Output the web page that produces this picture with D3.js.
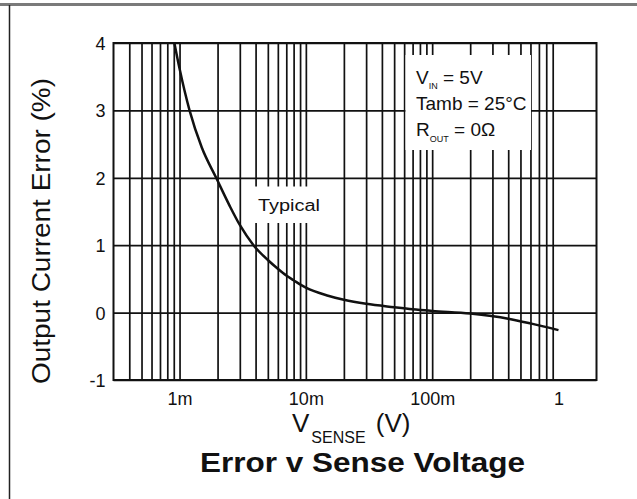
<!DOCTYPE html>
<html>
<head>
<meta charset="utf-8">
<script src="https://cdn.jsdelivr.net/npm/d3@7/dist/d3.min.js"></script>
<style>
html,body{margin:0;padding:0;background:#fff;}
svg{display:block;}
text{font-family:"Liberation Sans",Arial,Helvetica,sans-serif;fill:#111;}
</style>
</head>
<body>
<svg id="chart" width="637" height="499"></svg>
<script>
// ---- data ----
const vSense = [0.00091, 0.001, 0.0012, 0.0015, 0.00195, 0.0025, 0.003, 0.00385, 0.005, 0.006, 0.007, 0.008, 0.01, 0.015, 0.02, 0.03, 0.05, 0.07, 0.1, 0.2, 0.4, 0.6, 1.0];
const errorPct = [4.0, 3.62, 3.0, 2.45, 2.0, 1.58, 1.3, 1.0, 0.78, 0.65, 0.55, 0.48, 0.37, 0.25, 0.19, 0.13, 0.08, 0.05, 0.025, -0.015, -0.09, -0.16, -0.26];
const xTickValues = [0.001, 0.01, 0.1, 1];
const xTickLabels = ["1m", "10m", "100m", "1"];
const yTickValues = [-1, 0, 1, 2, 3, 4];
const yTickLabels = ["-1", "0", "1", "2", "3", "4"];
const xDomain = [0.0003, 2];
const yDomain = [-1, 4];

// ---- layout ----
const svg = d3.select("#chart");
const L = 113.5, R = 596.5, T = 43, B = 380;
const x = d3.scaleLog().domain(xDomain).range([L, R]);
const y = d3.scaleLinear().domain(yDomain).range([B, T]);

// outer frame fragments
svg.append("rect").attr("x", 0).attr("y", 3).attr("width", 637).attr("height", 3).attr("fill", "#7a7a7a");
svg.append("line").attr("x1", 9.5).attr("x2", 9.5).attr("y1", 5).attr("y2", 499).attr("stroke", "#222").attr("stroke-width", 1.5);

// vertical grid values (1..9 per decade inside the domain)
const gridX = [];
[1e-4, 1e-3, 1e-2, 1e-1].forEach(d => {
  for (let m = 1; m <= 9; m++) {
    const v = +(m * d).toPrecision(3);
    if (v > xDomain[0] * 1.0001 && v <= 1.0001) gridX.push(v);
  }
});

const g = svg.append("g");
g.append("g").attr("transform", `translate(0,${B})`)
  .call(d3.axisBottom(x).tickValues(gridX).tickSize(-(B - T)).tickFormat(""))
  .call(a => a.select(".domain").remove())
  .call(a => a.selectAll("line").attr("stroke", "#111").attr("stroke-width", 1.7));
g.append("g").attr("transform", `translate(${L},0)`)
  .call(d3.axisLeft(y).tickValues(yTickValues).tickSize(-(R - L)).tickFormat(""))
  .call(a => a.select(".domain").remove())
  .call(a => a.selectAll("line").attr("stroke", "#111").attr("stroke-width", 1.7));

// white boxes behind annotations
svg.append("rect").attr("x", 248).attr("y", 186.5).attr("width", 76).attr("height", 36.5).attr("fill", "#fff");
svg.append("rect").attr("x", 405.5).attr("y", 55).attr("width", 125.5).attr("height", 95).attr("fill", "#fff");

// frame
svg.append("rect").attr("x", L).attr("y", T).attr("width", R - L).attr("height", B - T)
  .attr("fill", "none").attr("stroke", "#111").attr("stroke-width", 2);

// curve
svg.append("clipPath").attr("id", "clip").append("rect")
  .attr("x", L).attr("y", T).attr("width", R - L).attr("height", B - T);
const pts = vSense.map((v, i) => [v, errorPct[i]]);
svg.append("path").datum(pts)
  .attr("clip-path", "url(#clip)")
  .attr("fill", "none").attr("stroke", "#111").attr("stroke-width", 2.5)
  .attr("stroke-linejoin", "round")
  .attr("d", d3.line().x(d => x(d[0])).y(d => y(d[1])).curve(d3.curveMonotoneX));

// axes labels
const xa = svg.append("g").attr("transform", `translate(0,${B})`)
  .call(d3.axisBottom(x).tickValues(xTickValues).tickSize(0).tickPadding(0)
    .tickFormat((d, i) => xTickLabels[i]));
xa.select(".domain").remove();
xa.selectAll("text").attr("dy", null).attr("y", 25).attr("font-size", 18)
  .attr("font-family", '"Liberation Sans",Arial,sans-serif').attr("fill", "#111");

const ya = svg.append("g").attr("transform", `translate(${L},0)`)
  .call(d3.axisLeft(y).tickValues(yTickValues).tickSize(0).tickPadding(8)
    .tickFormat((d, i) => yTickLabels[i]));
ya.select(".domain").remove();
ya.selectAll("text").attr("dy", "0.36em").attr("font-size", 18)
  .attr("font-family", '"Liberation Sans",Arial,sans-serif').attr("fill", "#111");

// Typical
svg.append("text").attr("x", 258).attr("y", 211).attr("font-size", 16)
  .attr("textLength", 62).attr("lengthAdjust", "spacingAndGlyphs").text("Typical");

// legend conditions
const leg = [
  {main: "V", sub: "IN", rest: " = 5V", y: 83.5},
  {main: "Tamb = 25°C", sub: "", rest: "", y: 110},
  {main: "R", sub: "OUT", rest: " = 0Ω", y: 136}
];
leg.forEach(l => {
  const t = svg.append("text").attr("x", 416).attr("y", l.y).attr("font-size", 19);
  t.append("tspan").text(l.main);
  if (l.sub) {
    t.append("tspan").attr("font-size", 9).attr("dy", 5.5).text(l.sub);
    t.append("tspan").attr("dy", -5.5).text(l.rest);
  }
});

// x-axis title
const xt = svg.append("text").attr("x", 292).attr("y", 432).attr("font-size", 26);
xt.append("tspan").text("V");
xt.append("tspan").attr("font-size", 16).attr("dy", 11).attr("dx", 2).text("SENSE");
xt.append("tspan").attr("dy", -11).attr("dx", 3).text(" (V)");

// y-axis title
svg.append("text").attr("transform", "translate(50,231) rotate(-90)")
  .attr("text-anchor", "middle").attr("font-size", 25)
  .attr("textLength", 306).attr("lengthAdjust", "spacingAndGlyphs")
  .text("Output Current Error (%)");

// chart title
svg.append("text").attr("x", 200).attr("y", 472).attr("font-size", 28).attr("font-weight", "bold")
  .attr("textLength", 325).attr("lengthAdjust", "spacingAndGlyphs")
  .text("Error v Sense Voltage");
</script>
</body>
</html>
